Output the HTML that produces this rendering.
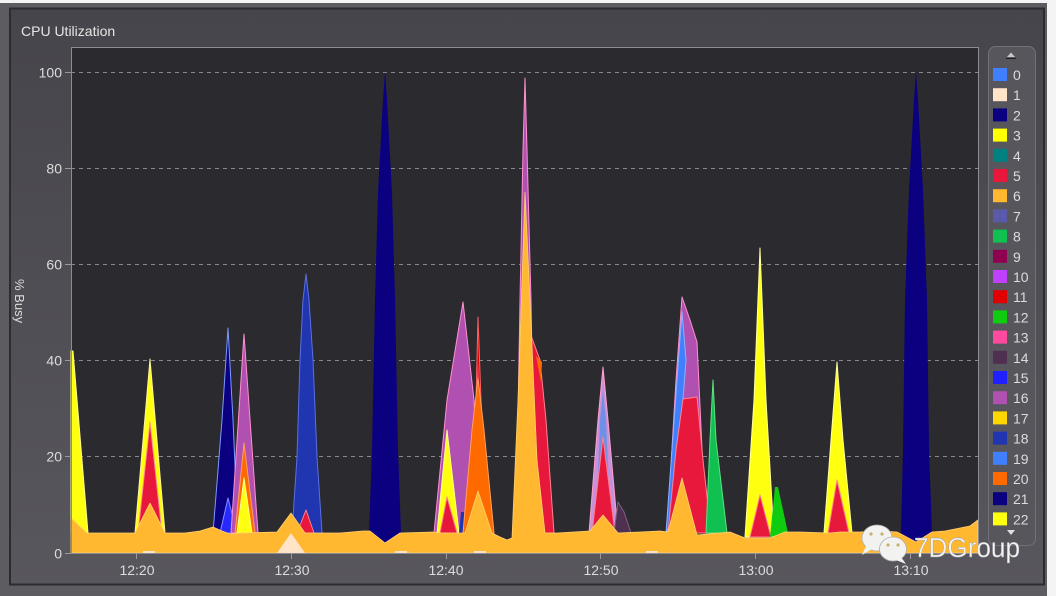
<!DOCTYPE html>
<html><head><meta charset="utf-8"><style>
html,body{margin:0;padding:0;background:#f4f4f4;}
svg{display:block;}
text{font-family:"Liberation Sans","DejaVu Sans",sans-serif;}
</style></head><body>
<svg width="1056" height="596" viewBox="0 0 1056 596" xmlns="http://www.w3.org/2000/svg">
<defs>
<linearGradient id="pg" x1="0" y1="0" x2="0" y2="1">
<stop offset="0" stop-color="#46454b"/><stop offset="1" stop-color="#58575d"/>
</linearGradient>
</defs>
<rect x="0" y="0" width="1056" height="596" fill="#f4f4f4"/>
<rect x="0" y="3" width="1047" height="593" fill="#5c5c61"/>
<rect x="10" y="8.5" width="1034" height="576" fill="url(#pg)" stroke="#2c2c30" stroke-width="2"/>
<text x="21" y="36" font-size="14" fill="#e6e6e6">CPU Utilization</text>
<text transform="translate(15,279) rotate(90)" font-size="13" fill="#dcdcdc">% Busy</text>

<!-- plot area -->
<rect x="71" y="47" width="907" height="506" fill="#2b2a2f"/>
<g stroke="#9a9a9e" stroke-width="1" stroke-dasharray="4,4" opacity="0.85">
<line x1="71" y1="72.5" x2="978" y2="72.5"/>
<line x1="71" y1="168.5" x2="978" y2="168.5"/>
<line x1="71" y1="264.5" x2="978" y2="264.5"/>
<line x1="71" y1="360.5" x2="978" y2="360.5"/>
<line x1="71" y1="456.5" x2="978" y2="456.5"/>
</g>

<!-- series -->
<g stroke-linejoin="round">
<polygon points="71,351 73,351 88,533 71,533" fill="#ffff10" stroke="#ffff90" stroke-width="1"/>
<polygon points="135,533 150,359 165,533" fill="#ffff10" stroke="#fff0a0" stroke-width="1"/>
<polygon points="138,533 150,422 162,533" fill="#e8183c" stroke="#ff9090" stroke-width="1"/>

<polygon points="213,533 222,420 228,328 233,420 238,533" fill="#0a0080" stroke="#7a9aff" stroke-width="1"/>
<polygon points="220,533 228,498 237,533" fill="#2828ff" stroke="#8090ff" stroke-width="1"/>
<polygon points="231,533 244,334 258,533" fill="#b050b0" stroke="#ff90d0" stroke-width="1"/>
<polygon points="235,533 244,443 255,533" fill="#ff6a00" stroke="#ffa060" stroke-width="1"/>
<polygon points="237,533 244,478 252,533" fill="#ffff10" stroke="#ffff90" stroke-width="1"/>

<polygon points="292,533 297,457 300,360 303,300 306,274 309,300 313,360 317,457 322,533" fill="#2035b0" stroke="#5a70e0" stroke-width="1"/>
<polygon points="297,533 306,510 314,533" fill="#e8183c" stroke="#ff8090" stroke-width="1"/>

<polygon points="369,533 372,450 375,300 378,193 383,100 385,72 387,100 392,193 395,300 398,450 401,533 385,545" fill="#0a0080"/>

<polygon points="434,533 447,400 463,302 474,400 480,533" fill="#b050b0" stroke="#ff90d0" stroke-width="1"/>
<polygon points="437,533 447,430 459,533" fill="#ffff10" stroke="#ffff90" stroke-width="1"/>
<polygon points="440,533 447,497 457,533" fill="#e8183c" stroke="#ff8090" stroke-width="1"/>
<polygon points="459,533 461,512 464,512 466,533" fill="#2035b0"/>
<polygon points="471,533 476,400 478,317 481,400 488,533" fill="#e00000" stroke="#ff6060" stroke-width="1"/>
<polygon points="473,533 478,360 483,533" fill="#ff70b0"/>
<polygon points="463,533 472,430 478,378 484,430 494,533" fill="#ff6a00" stroke="#ffa060" stroke-width="1"/>

<polygon points="516,533 520,300 523,150 525,78 527,150 531,300 535,533" fill="#b050b0" stroke="#ff90d0" stroke-width="1"/>
<polygon points="529,330 540,360 546,420 554,533 538,533" fill="#e8183c" stroke="#ff8090" stroke-width="1"/>
<polygon points="536,356 542,362 541,382" fill="#ff6a00"/>

<polygon points="589,533 598,420 603,367 608,420 618,533" fill="#c890d8" stroke="#ffa0d0" stroke-width="1"/>
<polygon points="596,533 600,420 603,390 606,420 611,533" fill="#7090e8"/>
<polygon points="592,533 603,437 615,533" fill="#e8183c" stroke="#ff8090" stroke-width="1"/>
<polygon points="614,533 618,502 624,512 631,533" fill="#503050" stroke="#806080" stroke-width="1"/>

<polygon points="667,533 676,380 682,297 690,320 697,342 703,470 710,533" fill="#b050b0" stroke="#ff90d0" stroke-width="1"/>
<polygon points="666,533 677,380 682,312 686,360 683,400 672,520" fill="#4080ff" stroke="#90b0ff" stroke-width="1"/>
<polygon points="668,533 676,450 683,399 697,397 703,460 711,533" fill="#e8183c" stroke="#ff8090" stroke-width="1"/>
<polygon points="706,533 710,440 713,380 716,440 727,533" fill="#10c050" stroke="#60e080" stroke-width="1"/>

<polygon points="745,537 754,400 760,248 766,400 774,537" fill="#ffff10" stroke="#ffffa0" stroke-width="1"/>
<polygon points="750,537 760,495 771,537" fill="#e8183c" stroke="#ff8090" stroke-width="1"/>
<polygon points="770,537 775,487 778,487 788,533" fill="#10cc10"/>

<polygon points="824,533 831,440 837,362 843,440 852,533" fill="#ffff10" stroke="#ffffa0" stroke-width="1"/>
<polygon points="828,533 837,480 849,533" fill="#e8183c" stroke="#ff8090" stroke-width="1"/>

<polygon points="901,533 903,450 905,300 909,190 914,100 916,72 918,100 923,190 927,300 929,450 932,533 916,543" fill="#0a0080"/>

<!-- base series 6 -->
<polygon points="71,518 87,533 135,533 150,503 165,533 185,533 200,531 213,527 222,531 230,534 240,533 277,532 291,513 305,533 340,533 363,531 370,531 385,543 400,533 433,532 440,533 458,533 465,533 478,491 492,533 500,537 507,540 512,538 518,400 525,192 530,300 537,460 545,533 557,533 590,531 603,515 618,533 640,532 660,531 668,532 682,478 697,535 730,532 745,538 770,538 785,532 800,532 830,533 840,532 860,532 880,531 897,532 916,542 932,532 945,531 960,528 970,526 978,520 978,553 71,553" fill="#ffb830" stroke="#ffd070" stroke-width="0.8"/>
<!-- series 1 -->
<polygon points="277,553 291,533 305,553" fill="#ffe4c8"/>
<rect x="143" y="551" width="12" height="2" fill="#ffe4c8"/>
<rect x="395" y="551" width="12" height="2" fill="#ffe4c8"/>
<rect x="474" y="551" width="12" height="2" fill="#ffe4c8"/>
<rect x="646" y="551" width="12" height="2" fill="#ffe4c8"/>
</g>

<!-- plot border -->
<line x1="71" y1="47.5" x2="978" y2="47.5" stroke="#8c8c92"/>
<line x1="71.5" y1="47" x2="71.5" y2="553" stroke="#8c8c92"/>
<line x1="978.5" y1="47" x2="978.5" y2="553" stroke="#8c8c92"/>
<line x1="71" y1="553.5" x2="978" y2="553.5" stroke="#8c8c92"/>

<!-- y ticks -->
<g stroke="#9a9a9e">
<line x1="65" y1="72.5" x2="71" y2="72.5"/>
<line x1="65" y1="168.5" x2="71" y2="168.5"/>
<line x1="65" y1="264.5" x2="71" y2="264.5"/>
<line x1="65" y1="360.5" x2="71" y2="360.5"/>
<line x1="65" y1="456.5" x2="71" y2="456.5"/>
<line x1="65" y1="553.5" x2="71" y2="553.5"/>
</g>
<g font-size="14" fill="#dcdcdc" text-anchor="end">
<text x="62" y="77.5">100</text>
<text x="62" y="173.5">80</text>
<text x="62" y="269.5">60</text>
<text x="62" y="365.5">40</text>
<text x="62" y="461.5">20</text>
<text x="62" y="558.5">0</text>
</g>
<!-- x ticks -->
<g stroke="#9a9a9e">
<line x1="136.5" y1="553" x2="136.5" y2="559"/>
<line x1="291.5" y1="553" x2="291.5" y2="559"/>
<line x1="446.5" y1="553" x2="446.5" y2="559"/>
<line x1="600.5" y1="553" x2="600.5" y2="559"/>
<line x1="755.5" y1="553" x2="755.5" y2="559"/>
<line x1="910.5" y1="553" x2="910.5" y2="559"/>
</g>
<g font-size="14" fill="#dcdcdc" text-anchor="middle">
<text x="137" y="575">12:20</text>
<text x="292" y="575">12:30</text>
<text x="446" y="575">12:40</text>
<text x="601" y="575">12:50</text>
<text x="756" y="575">13:00</text>
<text x="911" y="575">13:10</text>
</g>

<!-- legend -->
<rect x="988.5" y="46.5" width="47" height="499" rx="7" fill="#57565c" stroke="#717177"/>
<polygon points="1007,57 1011,52.5 1015,57" fill="#c8c8c8"/>
<line x1="1006" y1="58.5" x2="1016" y2="58.5" stroke="#202024"/>
<polygon points="1007,530 1015,530 1011,535" fill="#e0e0e0"/>
<g font-size="14" fill="#dcdcdc">
<rect x="993" y="68" width="14" height="13" fill="#4080ff"/><text x="1013" y="80">0</text>
<rect x="993" y="88.2" width="14" height="13" fill="#ffe4c8"/><text x="1013" y="100.2">1</text>
<rect x="993" y="108.4" width="14" height="13" fill="#0a0080"/><text x="1013" y="120.4">2</text>
<rect x="993" y="128.6" width="14" height="13" fill="#ffff00"/><text x="1013" y="140.6">3</text>
<rect x="993" y="148.8" width="14" height="13" fill="#008080"/><text x="1013" y="160.8">4</text>
<rect x="993" y="169" width="14" height="13" fill="#e8183c"/><text x="1013" y="181">5</text>
<rect x="993" y="189.2" width="14" height="13" fill="#ffb830"/><text x="1013" y="201.2">6</text>
<rect x="993" y="209.4" width="14" height="13" fill="#5a5aaa"/><text x="1013" y="221.4">7</text>
<rect x="993" y="229.6" width="14" height="13" fill="#10c050"/><text x="1013" y="241.6">8</text>
<rect x="993" y="249.8" width="14" height="13" fill="#900050"/><text x="1013" y="261.8">9</text>
<rect x="993" y="270" width="14" height="13" fill="#c040ff"/><text x="1013" y="282">10</text>
<rect x="993" y="290.2" width="14" height="13" fill="#e00000"/><text x="1013" y="302.2">11</text>
<rect x="993" y="310.4" width="14" height="13" fill="#10cc10"/><text x="1013" y="322.4">12</text>
<rect x="993" y="330.6" width="14" height="13" fill="#ff4aa0"/><text x="1013" y="342.6">13</text>
<rect x="993" y="350.8" width="14" height="13" fill="#503050"/><text x="1013" y="362.8">14</text>
<rect x="993" y="371" width="14" height="13" fill="#2020ff"/><text x="1013" y="383">15</text>
<rect x="993" y="391.2" width="14" height="13" fill="#b050b0"/><text x="1013" y="403.2">16</text>
<rect x="993" y="411.4" width="14" height="13" fill="#ffd700"/><text x="1013" y="423.4">17</text>
<rect x="993" y="431.6" width="14" height="13" fill="#2035b0"/><text x="1013" y="443.6">18</text>
<rect x="993" y="451.8" width="14" height="13" fill="#4080ff"/><text x="1013" y="463.8">19</text>
<rect x="993" y="472" width="14" height="13" fill="#ff6a00"/><text x="1013" y="484">20</text>
<rect x="993" y="492.2" width="14" height="13" fill="#0a0080"/><text x="1013" y="504.2">21</text>
<rect x="993" y="512.4" width="14" height="13" fill="#ffff10"/><text x="1013" y="524.4">22</text>
</g>

<!-- watermark -->
<g>
<ellipse cx="877" cy="538" rx="15" ry="13" fill="#f2f2f0" stroke="#b0b0b0" stroke-width="0.8"/>
<polygon points="866,546 862,555 872,549" fill="#f2f2f0"/>
<circle cx="871" cy="534" r="1.6" fill="#c8b070"/>
<circle cx="882" cy="534" r="1.6" fill="#c8b070"/>
<ellipse cx="893" cy="549" rx="13.5" ry="12" fill="#f2f2f0" stroke="#b0b0b0" stroke-width="0.8"/>
<polygon points="901,557 906,564 896,560" fill="#f2f2f0"/>
<circle cx="888" cy="545" r="1.6" fill="#c8b070"/>
<circle cx="898" cy="545" r="1.6" fill="#c8b070"/>
<text x="914" y="557" font-size="28" fill="#f4f4f4" stroke="#9a9a9a" stroke-width="0.4" textLength="106" lengthAdjust="spacingAndGlyphs">7DGroup</text>
</g>
</svg>
</body></html>
